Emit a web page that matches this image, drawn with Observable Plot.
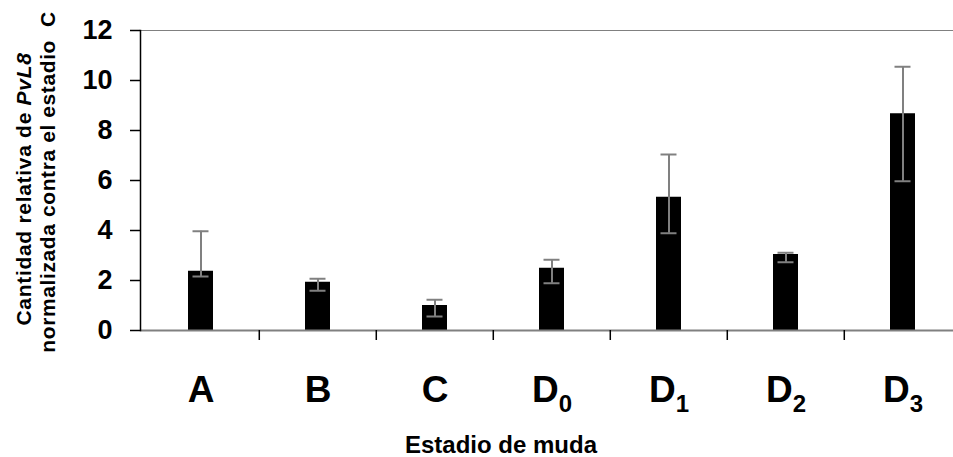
<!DOCTYPE html>
<html><head><meta charset="utf-8">
<script src="https://cdn.jsdelivr.net/npm/d3@7"></script>
<script src="https://cdn.jsdelivr.net/npm/@observablehq/plot@0.6"></script>
<style>body{margin:0;background:#fff} svg{display:block}</style>
</head><body><div id="chart"></div>
<script>
const stages = ["A","B","C","D0","D1","D2","D3"];
const means = [2.37, 1.93, 1.0, 2.49, 5.33, 3.04, 8.67];
const errLow = [2.16, 1.59, 0.56, 1.89, 3.89, 2.73, 5.97];
const errHigh = [3.97, 2.07, 1.23, 2.83, 7.04, 3.11, 10.55];
const yTicks = [0, 2, 4, 6, 8, 10, 12];
const yTitle1 = "Cantidad relativa de ";
const yTitleItalic = "PvL8";
const yTitle2 = "normalizada contra el estadio\u00a0\u00a0C";
const xTitle = "Estadio de muda";

const data = stages.map((s, i) => ({stage: s, mean: means[i], lo: errLow[i], hi: errHigh[i]}));
const W = 953, H = 457;
const xRange = [140, 962];
const step = (xRange[1] - xRange[0]) / stages.length;
const font = "'Liberation Sans', Arial, Helvetica, sans-serif";
const errColor = "#808080";

const chart = Plot.plot({
  width: W, height: H,
  marginLeft: 140, marginRight: 0, marginTop: 30, marginBottom: 127,
  style: {fontFamily: font, background: "#fff", color: "#000", overflow: "hidden"},
  x: {domain: stages, range: xRange, paddingInner: 0.787, paddingOuter: 0.3935, label: null},
  y: {domain: [0, 12], label: null},
  marks: [
    Plot.ruleY([12], {stroke: "#808080", strokeWidth: 1}),
    Plot.barY(data, {x: "stage", y: "mean", fill: "#000"}),
    Plot.ruleX(data, {x: "stage", y1: "lo", y2: "hi", stroke: errColor, strokeWidth: 2}),
    Plot.tickY(data, {x: "stage", y: "lo", stroke: errColor, strokeWidth: 2, insetLeft: 4.5, insetRight: 4.5}),
    Plot.tickY(data, {x: "stage", y: "hi", stroke: errColor, strokeWidth: 2, insetLeft: 4.5, insetRight: 4.5}),
    Plot.ruleY([0], {stroke: "#808080", strokeWidth: 2}),
    Plot.ruleX(stages.slice(1), {x: d => d, y1: 0, y2: -0.4, dx: -step / 2, stroke: "#000", strokeWidth: 1.5}),
    Plot.frame({anchor: "left", stroke: "#000", strokeWidth: 1.5}),
    Plot.axisY({ticks: yTicks, tickSize: 10, tickPadding: 18, fontSize: 27, fontWeight: "bold", stroke: "#000", strokeWidth: 1.5, label: null}),
    Plot.axisX({tickSize: 0, tickPadding: 45, fontSize: 37, fontWeight: "bold", label: null})
  ]
});
document.getElementById("chart").appendChild(chart);

const svg = d3.select(chart);
// subscripts on D stages
svg.selectAll('g[aria-label="x-axis tick label"] text').each(function () {
  const t = this.textContent;
  if (t.length > 1) {
    const sel = d3.select(this);
    sel.text(t[0]);
    sel.append("tspan").attr("font-size", 24).attr("dy", "0.42em").text(t.slice(1));
  }
});
// y-axis title (two lines, rotated)
const yt = svg.append("g").attr("font-family", font).attr("font-weight", "bold").attr("font-size", 21).attr("text-anchor", "middle");
const l1 = yt.append("text").attr("transform", "translate(31,189) rotate(-90)").attr("letter-spacing", 0.7);
l1.append("tspan").text(yTitle1);
l1.append("tspan").attr("font-style", "italic").text(yTitleItalic);
yt.append("text").attr("transform", "translate(55,182) rotate(-90)").attr("letter-spacing", 0.6).text(yTitle2);
// x-axis title
svg.append("text").attr("x", 501).attr("y", 453).attr("text-anchor", "middle")
  .attr("font-family", font).attr("font-weight", "bold").attr("font-size", 24).text(xTitle);
</script>
</body></html>
